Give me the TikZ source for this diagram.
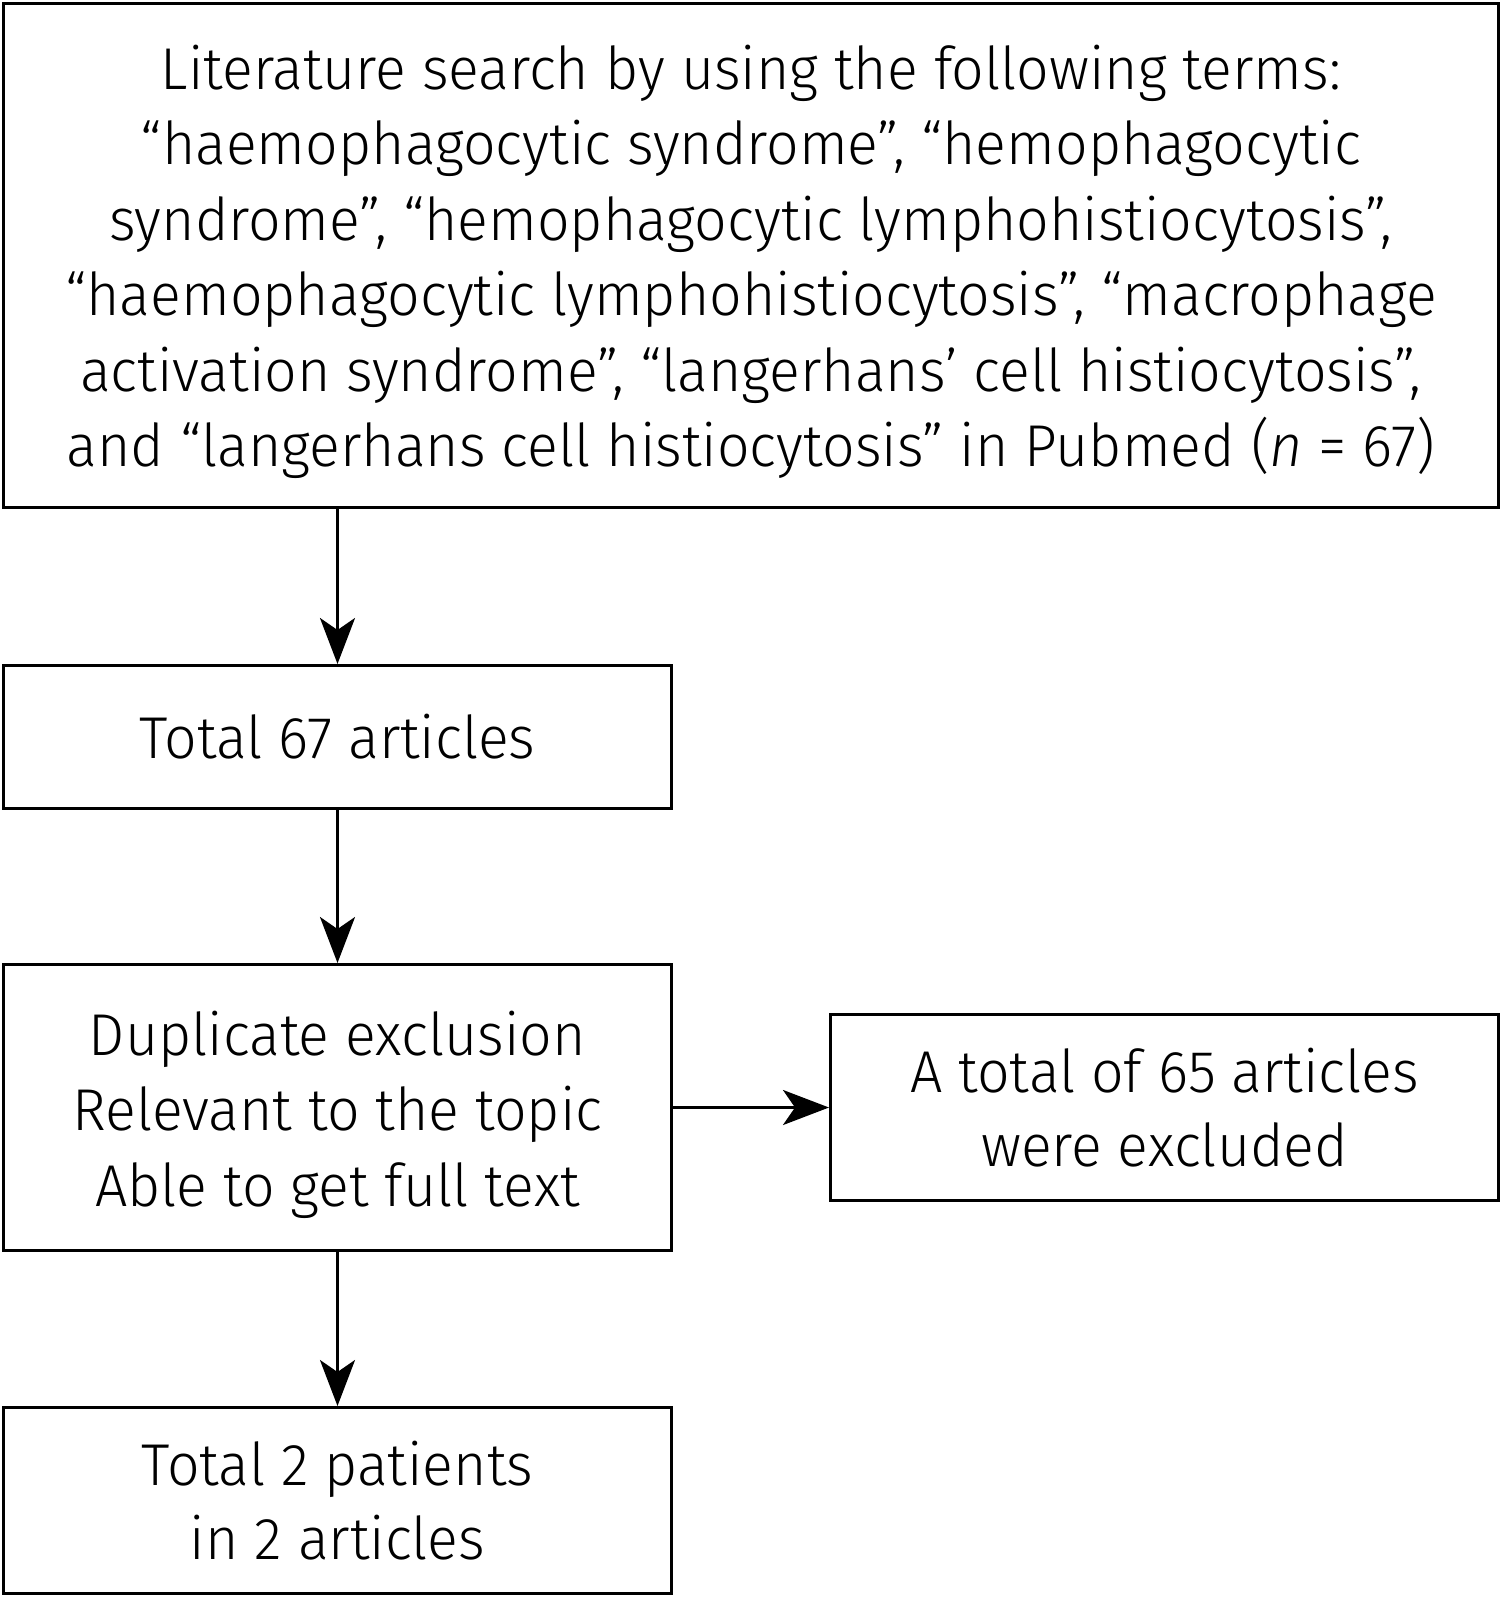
\documentclass[tikz,border=0pt]{standalone}
\usepackage{fontspec}
\setmainfont{Fira Sans}[UprightFont={* Light}, ItalicFont={* Light Italic}, FakeStretch=0.97]
\usetikzlibrary{arrows.meta}
\begin{document}
\begin{tikzpicture}[x=1pt,y=-1pt,
  box/.style={draw=black, line width=3pt, fill=white, align=center, inner sep=0pt,
    font=\fontsize{59}{74.5}\selectfont},
  txt/.style={align=center, inner sep=0pt, font=\fontsize{59}{75.5}\selectfont},
  arr/.style={line width=3pt, -{Stealth[length=46pt,width=35pt,inset=12pt]}}]
\useasboundingbox[fill=white] (0,0) rectangle (1502,1597);
\node[box, minimum width=1495pt, minimum height=504pt] (search) at (751,255.5) {};
\node[txt] (searchtext) at ([yshift=-6.5pt]search.center)
  {Literature search by using the following terms:\\
   “haemophagocytic syndrome”, “hemophagocytic\\
   syndrome”, “hemophagocytic lymphohistiocytosis”,\\
   “haemophagocytic lymphohistiocytosis”, “macrophage\\
   activation syndrome”, “langerhans’ cell histiocytosis”,\\
   and “langerhans cell histiocytosis” in Pubmed (\textit{n} = 67)};
\node[box, minimum width=668pt, minimum height=143pt] (total) at (337.5,737) {Total 67 articles};
\node[box, minimum width=668pt, minimum height=286pt] (dup) at (337.5,1107.5) {};
\node[txt] (duptext) at ([yshift=-7pt]dup.center)
  {Duplicate exclusion\\Relevant to the topic\\Able to get full text};
\node[box, minimum width=668pt, minimum height=186pt] (excl) at (1164.5,1107.5)
  {A total of 65 articles\\were excluded};
\node[box, minimum width=668pt, minimum height=186pt] (final) at (337.5,1500.5)
  {Total 2 patients\\in 2 articles};
\draw[arr] (search.south -| total.north) -- (total.north);
\draw[arr] (total.south) -- (dup.north);
\draw[arr] (dup.east) -- (excl.west);
\draw[arr] (dup.south) -- (final.north);
\end{tikzpicture}
\end{document}
